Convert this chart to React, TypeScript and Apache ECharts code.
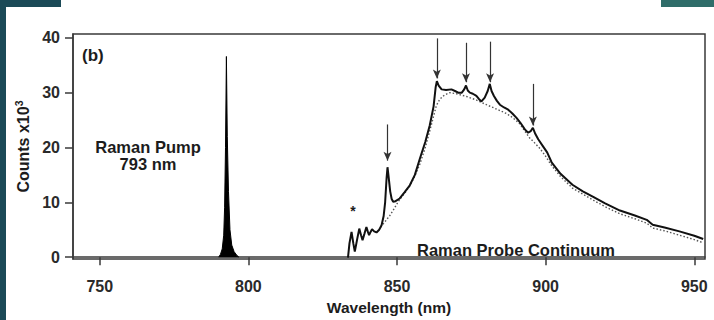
import React, { useEffect, useRef } from "react";
import * as echarts from "echarts";

const xTicks = [750, 800, 850, 900, 950];
const yTicks = [0, 10, 20, 30, 40];

const pumpWl = [790.0, 790.6, 791.2, 791.7, 792.0, 792.3, 792.6, 792.9, 793.3, 793.8, 794.4, 795.2, 796.0, 796.8];
const pumpCounts = [0, 0.5, 1.5, 4, 9, 20, 36.6, 22, 12, 5, 2.2, 1.0, 0.4, 0];

const probeWl = [
  833.5, 834.0, 834.7, 835.3, 835.8, 836.5, 837.3, 837.9, 838.4, 839.0, 839.7, 840.2, 840.6, 841.1, 841.6,
  842.3, 843.1, 844.0, 844.8, 845.5, 846.0, 846.5, 846.8, 847.2, 847.7, 848.2, 848.7, 849.5, 850.9, 852.5,
  854.3, 856.0, 857.7, 859.5, 861.0, 862.3, 863.0, 863.4, 864.0, 865.0, 866.5, 868.3, 869.5, 870.6, 871.8,
  872.6, 873.2, 873.8, 874.5, 875.5, 876.7, 877.6, 878.4, 879.5, 880.5, 881.2, 881.8, 882.6, 883.6, 884.6,
  886.0, 887.4, 888.8, 890.2, 891.5, 893.0, 894.1, 895.0, 895.7, 896.5, 897.5, 899.0, 900.5, 902.0, 905.0,
  909.0, 912.5, 916.0, 920.0, 925.0, 930.0, 934.0, 936.0, 940.0, 945.0, 950.0, 953.0,
];
const probeCounts = [
  -0.1, 2.5, 4.6, 2.5, 1.0, 3.0, 5.2, 4.0, 3.1, 4.2, 5.5, 4.6, 4.0, 4.6, 5.1,
  4.7, 4.5, 5.0, 5.8, 7.5, 10.0, 14.5, 16.4, 14.5, 12.0, 10.6, 10.1, 10.2, 10.7, 11.8,
  13.1, 15.0, 18.0, 21.0, 24.0, 27.5, 31.0, 32.1, 31.3, 30.6, 30.5, 30.6, 30.3, 30.0, 30.0,
  30.6, 31.3, 30.4, 30.0, 29.8, 29.4, 28.8, 28.4, 29.1, 30.3, 31.6, 30.3, 29.4, 28.5, 27.8,
  27.3, 26.9, 26.2, 25.4, 24.5, 23.3, 22.7, 23.0, 23.6, 22.5, 21.5, 20.3, 19.1, 17.3, 15.2,
  13.2, 12.0, 11.0, 9.8, 8.5, 7.6, 6.8, 5.9, 5.4, 4.7, 3.9, 3.3,
];

const baseWl = [
  844.5, 846.0, 847.6, 849.0, 850.5, 852.5, 854.3, 856.0, 857.7, 859.5, 861.0, 862.2, 863.2, 864.4, 866.0,
  867.8, 870.0, 873.4, 876.5, 880.1, 883.5, 886.8, 889.0, 891.3, 893.0, 894.5, 896.0, 898.1, 900.0, 902.0,
  905.0, 909.0, 916.0, 920.0, 925.0, 930.0, 934.0, 936.0, 940.0, 945.0, 950.0, 953.0,
];
const baseCounts = [
  5.5, 6.5, 7.6, 8.8, 10.2, 11.6, 13.0, 14.8, 17.0, 20.0, 23.0, 25.5, 27.6, 28.8, 29.6,
  30.0, 29.8, 29.3, 28.7, 27.8, 27.0, 26.2, 25.4, 24.3, 23.0, 21.8, 21.0, 19.8, 18.4, 16.7,
  14.7, 12.6, 10.4, 9.2, 7.9, 7.0, 6.2, 5.3, 4.8, 4.0, 3.2, 2.6,
];

const arrowWl = [846.8, 863.4, 873.2, 881.3, 895.7];
const arrowTop = [24.2, 39.9, 39.1, 39.3, 31.6];
const arrowTip = [17.6, 32.6, 31.9, 31.9, 24.0];

const starPoint = [835.2, 8.4];

const FONT = "'Liberation Sans', Arial, Helvetica, sans-serif";
const INK = "#1c1c1c";

export default function App() {
  const ref = useRef<HTMLDivElement>(null);
  useEffect(() => {
    if (!ref.current) return;
    const chart = echarts.init(ref.current, undefined, { renderer: "svg" });
    const zip = (xs: number[], ys: number[]) => xs.map((x, i) => [x, ys[i]]);
    chart.setOption({
      animation: false,
      backgroundColor: "#ffffff",
      textStyle: { fontFamily: FONT },
      grid: {
        left: 73,
        right: 9,
        top: 34,
        bottom: 59,
        show: true,
        borderColor: "#3a3a3a",
        borderWidth: 1.5,
        backgroundColor: "transparent",
      },
      xAxis: {
        type: "value",
        min: 741,
        max: 953.6,
        name: "Wavelength (nm)",
        nameLocation: "middle",
        nameGap: 35,
        nameTextStyle: { fontFamily: FONT, fontSize: 15.5, fontWeight: "bold", color: INK },
        axisLine: { show: true, lineStyle: { color: "#3a3a3a", width: 1.5 } },
        axisTick: { show: true, length: 8, customValues: xTicks, lineStyle: { color: "#3a3a3a", width: 1.5 } },
        axisLabel: { customValues: xTicks, margin: 19, fontFamily: FONT, fontSize: 16, fontWeight: "bold", color: "#2a2a2a" },
        splitLine: { show: false },
      },
      yAxis: {
        type: "value",
        min: -0.36,
        max: 40.7,
        name: "{a|Counts x10}{b|3}",
        nameLocation: "middle",
        nameRotate: 90,
        nameGap: 36,
        nameTextStyle: {
          fontFamily: FONT,
          color: INK,
          rich: {
            a: { fontFamily: FONT, fontSize: 16, fontWeight: "bold", color: INK, lineHeight: 19 },
            b: { fontFamily: FONT, fontSize: 10.5, fontWeight: "bold", color: INK, verticalAlign: "top", padding: [0, 0, 8, 0] },
          },
        },
        axisLine: { show: true, lineStyle: { color: "#3a3a3a", width: 1.5 } },
        axisTick: { show: true, length: 8, customValues: yTicks, lineStyle: { color: "#3a3a3a", width: 1.5 } },
        axisLabel: { customValues: yTicks, margin: 13, fontFamily: FONT, fontSize: 16, fontWeight: "bold", color: "#2a2a2a" },
        splitLine: { show: false },
      },
      graphic: [
        { type: "rect", left: 0, top: 0, shape: { x: 0, y: 0, width: 6, height: 320 }, style: { fill: "#1b4a57" } },
        { type: "rect", left: 0, top: 0, shape: { x: 0, y: 0, width: 61, height: 7 }, style: { fill: "#1b4a57" } },
        { type: "rect", left: 661, top: 0, shape: { x: 0, y: 0, width: 53, height: 7 }, style: { fill: "#2f6d69" } },
        { type: "text", x: 82, y: 55, style: { text: "(b)", fontFamily: FONT, fontSize: 17, fontWeight: "bold", fill: INK, textVerticalAlign: "middle" } },
        { type: "text", x: 148, y: 147, style: { text: "Raman Pump", fontFamily: FONT, fontSize: 16.5, fontWeight: "bold", fill: INK, textAlign: "center", textVerticalAlign: "middle" } },
        { type: "text", x: 148, y: 164, style: { text: "793 nm", fontFamily: FONT, fontSize: 16.5, fontWeight: "bold", fill: INK, textAlign: "center", textVerticalAlign: "middle" } },
        { type: "text", x: 516, y: 250, style: { text: "Raman Probe Continuum", fontFamily: FONT, fontSize: 16.5, fontWeight: "bold", fill: INK, textAlign: "center", textVerticalAlign: "middle" } },
      ],
      series: [
        {
          type: "line",
          name: "Pump",
          data: zip(pumpWl, pumpCounts),
          showSymbol: false,
          symbol: "none",
          lineStyle: { color: "#000", width: 1 },
          areaStyle: { color: "#000", opacity: 1 },
          silent: true,
        },
        {
          type: "line",
          name: "Baseline",
          data: zip(baseWl, baseCounts),
          showSymbol: false,
          symbol: "none",
          lineStyle: { color: "#555", width: 1.4, type: [1.5, 2] },
          silent: true,
        },
        {
          type: "line",
          name: "Probe",
          data: zip(probeWl, probeCounts),
          showSymbol: false,
          symbol: "none",
          lineStyle: { color: "#111", width: 2 },
          silent: true,
          markLine: {
            silent: true,
            symbol: ["none", "arrow"],
            symbolSize: [6, 9],
            label: { show: false },
            lineStyle: { color: "#333", width: 1.2, type: "solid" },
            data: arrowWl.map((w, i) => [
              { coord: [w, arrowTop[i]] },
              { coord: [w, arrowTip[i]] },
            ]),
          },
          markPoint: {
            silent: true,
            symbol: "circle",
            symbolSize: 0,
            data: [{ coord: starPoint }],
            label: { show: true, formatter: "*", fontFamily: FONT, fontSize: 14, fontWeight: "bold", color: INK, position: "inside" },
          },
        },
      ],
    });
    return () => chart.dispose();
  }, []);
  return (
    <div style={{ position: "absolute", left: 0, top: 0, width: 714, height: 320, background: "#fff" }}>
      <div ref={ref} style={{ width: 714, height: 320 }} />
    </div>
  );
}
